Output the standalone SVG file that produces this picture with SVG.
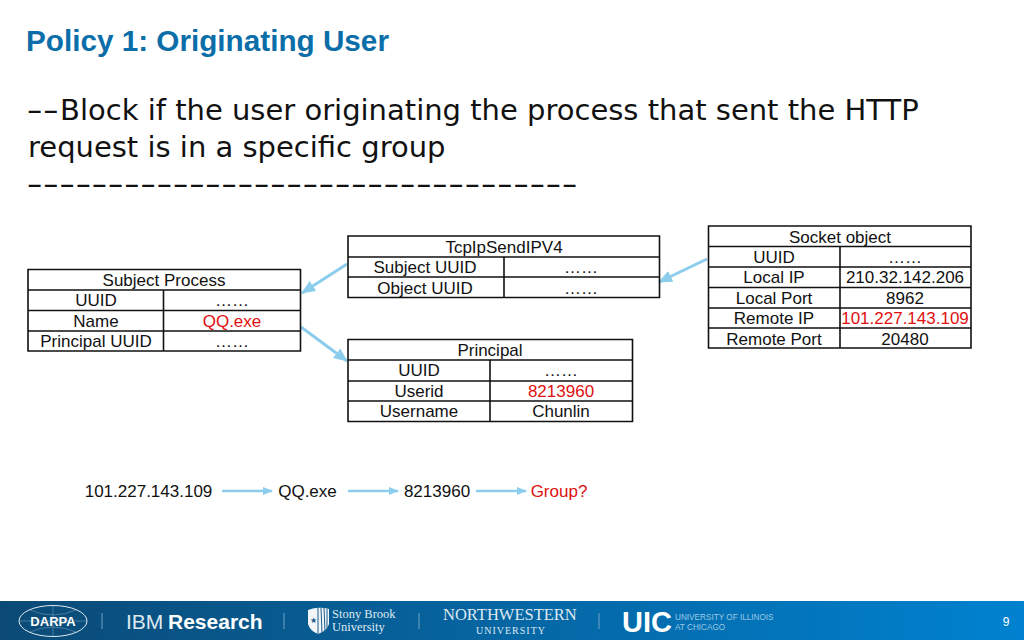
<svg xmlns="http://www.w3.org/2000/svg" width="1024" height="640" viewBox="0 0 1024 640">
<style>
text{font-family:"Liberation Sans",Arial,sans-serif;font-size:17px;fill:#111;text-anchor:middle}
.title{font-size:29.700px;font-weight:bold;fill:#0b6ea8;text-anchor:start}
.body{font-family:"DejaVu Sans",sans-serif;font-size:29px;fill:#111;text-anchor:start}
.red{fill:#e01010}
.grid{fill:none;stroke:#111;stroke-width:1.6}
.conn{stroke:#8ccdec;stroke-width:3;fill:none;marker-end:url(#a)}
.flow{stroke:#8ccdec;stroke-width:2.4;fill:none;marker-end:url(#b)}
.w{fill:#fff}
.f{fill:#dfe9f1;text-anchor:start}
.sep{stroke:#6fa3c7;stroke-width:1}
</style>
<defs>
<marker id="a" markerUnits="userSpaceOnUse" markerWidth="14" markerHeight="12" refX="13" refY="6" orient="auto"><path d="M0 0L14 6L0 12z" fill="#8ccdec"/></marker>
<marker id="b" markerUnits="userSpaceOnUse" markerWidth="10" markerHeight="8" refX="9" refY="4" orient="auto"><path d="M0 0L10 4L0 8z" fill="#8ccdec"/></marker>
<linearGradient id="g" x1="0" x2="1" y1="0" y2="0"><stop offset="0" stop-color="#0b4a76"/><stop offset="1" stop-color="#0082d0"/></linearGradient>
</defs>
<rect width="1024" height="640" fill="#fff"/>
<g id="heading">
<text class="title" x="26" y="51">Policy 1: Originating User</text>
<text class="body" transform="translate(26.500 120) scale(1.55 1)">--</text>
<text class="body" x="60" y="120">Block if the user originating the process that sent the HTTP</text>
<text class="body" x="28" y="157">request is in a specific group</text>
<text class="body" transform="translate(26.500 194) scale(1.55 1)">----------------------------------</text>
</g>
<g id="connectors">
<path class="conn" d="M347 264L302 293"/>
<path class="conn" d="M707 259L659 282"/>
<path class="conn" d="M301 327L347 361"/>
<path class="flow" d="M222 491H272"/>
<path class="flow" d="M348 491H398"/>
<path class="flow" d="M476 491H526"/>
</g>
<g id="subject-process">
<path class="grid" d="M28 269.500H300.500V351H28zM28 290H300.500M28 310.500H300.500M28 331H300.500M163.500 290V351"/>
<text x="164" y="286">Subject Process</text>
<text x="96" y="306">UUID</text><text x="232" y="306">……</text>
<text x="96" y="327">Name</text><text class="red" x="232" y="327">QQ.exe</text>
<text x="96" y="347">Principal UUID</text><text x="232" y="347">……</text>
</g>
<g id="tcpipsendipv4">
<path class="grid" d="M348 236H659.500V297.500H348zM348 257H659.500M348 277H659.500M504 257V297.500"/>
<text x="504" y="252.500">TcpIpSendIPV4</text>
<text x="425" y="273">Subject UUID</text><text x="581" y="273">……</text>
<text x="425" y="293.500">Object UUID</text><text x="581" y="293.500">……</text>
</g>
<g id="principal">
<path class="grid" d="M348 339.500H632.500V421.500H348zM348 360H632.500M348 381H632.500M348 401H632.500M490 360V421.500"/>
<text x="490" y="356">Principal</text>
<text x="419" y="376">UUID</text><text x="561" y="376">……</text>
<text x="419" y="397">Userid</text><text class="red" x="561" y="397">8213960</text>
<text x="419" y="417">Username</text><text x="561" y="417">Chunlin</text>
</g>
<g id="socket-object">
<path class="grid" d="M708.500 226H971V348H708.500zM708.500 246.500H971M708.500 267H971M708.500 287.500H971M708.500 308H971M708.500 328H971M840 246.500V348"/>
<text x="840" y="242.500">Socket object</text>
<text x="774" y="263">UUID</text><text x="905" y="263">……</text>
<text x="774" y="283">Local IP</text><text x="905" y="283">210.32.142.206</text>
<text x="774" y="303.500">Local Port</text><text x="905" y="303.500">8962</text>
<text x="774" y="324">Remote IP</text><text class="red" x="905" y="324">101.227.143.109</text>
<text x="774" y="344.500">Remote Port</text><text x="905" y="344.500">20480</text>
</g>
<g id="flow-labels">
<text x="148.500" y="497">101.227.143.109</text>
<text x="307.500" y="497">QQ.exe</text>
<text x="437" y="497">8213960</text>
<text class="red" x="559" y="497">Group?</text>
</g>
<g id="footer">
<rect y="601" width="1024" height="39" fill="url(#g)"/>
<ellipse cx="53" cy="621" rx="34" ry="15.500" fill="none" stroke="#dfe9f1" stroke-width="1"/>
<path d="M20 621H86M53 606V636M30 610Q53 620 76 610M30 632Q53 622 76 632" fill="none" stroke="#7fa6c2" stroke-width=".5"/>
<text x="53" y="626" style="font-size:13px;font-weight:bold;fill:#fff">DARPA</text>
<path class="sep" d="M102 613V629M284 613V629M419 613V629M599 613V629"/>
<text class="f" x="126" y="629" style="font-size:21px">IBM</text>
<text class="w" x="168" y="629" style="font-size:21px;font-weight:bold;text-anchor:start">Research</text>
<path d="M308 610Q318 606 329 609V624Q327 631 318 634Q310 631 308 624z" fill="#f2f6f9"/>
<path d="M318 608V634M321 608L322 633M324 608L325 631M327 609L327 628" stroke="#1a5a88" stroke-width="1" fill="none"/>
<text x="313" y="623" style="font-size:8px;fill:#1a5a88">★</text>
<text class="f" x="332" y="618" style="font-family:'Liberation Serif',serif;font-size:12.500px">Stony Brook</text>
<text class="f" x="332" y="631" style="font-family:'Liberation Serif',serif;font-size:12.500px">University</text>
<text class="f" x="443" y="620" style="font-family:'Liberation Serif',serif;font-size:16.500px">NORTHWESTERN</text>
<text class="f" x="476" y="634" style="font-family:'Liberation Serif',serif;font-size:10px;letter-spacing:1px">UNIVERSITY</text>
<text class="w" x="622" y="632" style="font-size:29px;font-weight:bold;text-anchor:start">UIC</text>
<text class="f" x="675" y="620" style="font-size:8.200px;fill:#9cc8e6">UNIVERSITY OF ILLINOIS</text>
<text class="f" x="675" y="630" style="font-size:8.200px;fill:#9cc8e6">AT CHICAGO</text>
<text class="w" x="1006" y="626" style="font-size:12px">9</text>
</g>
</svg>
